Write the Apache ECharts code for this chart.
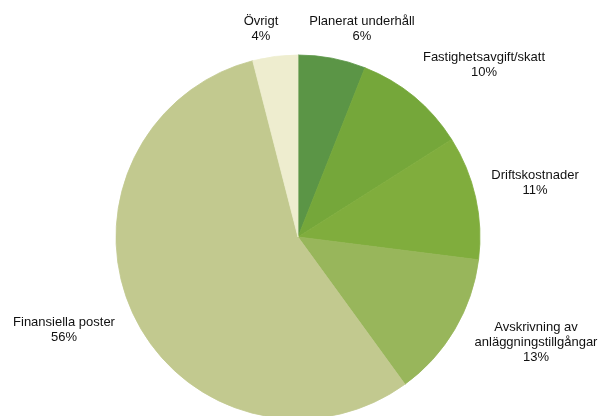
<!DOCTYPE html>
<html><head><meta charset="utf-8">
<script src="https://cdn.jsdelivr.net/npm/echarts@6/dist/echarts.min.js"></script>
<style>html,body{margin:0;padding:0;background:#fff}#c{width:601px;height:416px}</style>
</head><body><div id="c"></div>
<script>
const categories = ['Planerat underhåll','Fastighetsavgift/skatt','Driftskostnader','Avskrivning av\nanläggningstillgångar','Finansiella poster','Övrigt'];
const values = [6, 10, 11, 13, 56, 4];
const colors = ['#5b9546','#75a73a','#80ad3d','#98b65b','#c2c98f','#eeedcf'];
const labelPos = [[362,14],[484,50],[535,168],[536,320],[64,315],[261,14]];

const chart = echarts.init(document.getElementById('c'));
chart.setOption({
  animation: false,
  series: [{
    type: 'pie',
    center: [298, 237],
    radius: 182,
    startAngle: 90,
    clockwise: true,
    data: categories.map((n,i)=>({name:n, value:values[i], itemStyle:{color:colors[i], borderColor:colors[i], borderWidth:0.8}})),
    label: {
      show: true,
      formatter: p => p.name + '\n' + p.value + '%',
      fontFamily: 'Liberation Sans, Arial, sans-serif',
      fontSize: 13,
      lineHeight: 15,
      color: '#111',
      align: 'center',
      overflow: 'none',
      width: 220
    },
    labelLine: {show: false},
    labelLayout: p => ({x: labelPos[p.dataIndex][0], y: labelPos[p.dataIndex][1], align: 'center', verticalAlign: 'top', hideOverlap: false}),
    emphasis: {disabled: true}
  }]
});
</script></body></html>
